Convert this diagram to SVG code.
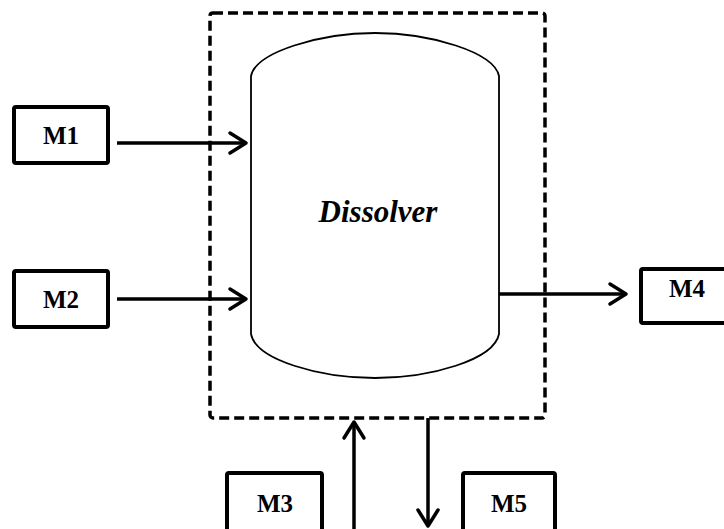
<svg xmlns="http://www.w3.org/2000/svg" width="724" height="529" viewBox="0 0 724 529">
<style>
.box{fill:#fff;stroke:#000;stroke-width:4}
.lbl{font-family:"Liberation Serif","Times New Roman",serif;font-weight:bold;font-size:25px;text-anchor:middle;fill:#000}
.line{fill:none;stroke:#000;stroke-width:3.5}
.head{fill:none;stroke:#000;stroke-width:3.5;stroke-linecap:round;stroke-linejoin:round}
</style>
<rect width="724" height="529" fill="#fff"/>
<g id="boundary">
<rect x="210" y="13" width="335" height="405" rx="3" fill="none" stroke="#000" stroke-width="3.5" stroke-dasharray="10,5"/>
</g>
<g id="dissolver">
<path d="M251,76 C256,52 320,33 375,33 C430,33 494,52 499,76 L499,334 C494,360 430,378 375,378 C320,378 256,360 251,334 Z" fill="#fff" stroke="#000" stroke-width="1.8"/>
<text x="378" y="222" font-family="'Liberation Serif','Times New Roman',serif" font-weight="bold" font-style="italic" font-size="31" text-anchor="middle">Dissolver</text>
</g>
<g id="M1">
<rect class="box" x="14" y="107" width="94" height="56" rx="2"/>
<text class="lbl" x="61" y="144">M1</text>
</g>
<g id="M2">
<rect class="box" x="14" y="271" width="94" height="56" rx="2"/>
<text class="lbl" x="61" y="308">M2</text>
</g>
<g id="M4">
<rect class="box" x="641" y="269" width="90" height="54" rx="2"/>
<text class="lbl" x="687" y="297">M4</text>
</g>
<g id="M3">
<rect class="box" x="227" y="473" width="95" height="62" rx="2"/>
<text class="lbl" x="275" y="512">M3</text>
</g>
<g id="M5">
<rect class="box" x="463" y="473" width="92" height="62" rx="2"/>
<text class="lbl" x="509" y="512">M5</text>
</g>
<g id="connectors">
<line class="line" x1="117" y1="143" x2="246" y2="143"/>
<polyline class="head" points="230,133 246,143 230,153"/>
<line class="line" x1="117" y1="299" x2="246" y2="299"/>
<polyline class="head" points="230,289 246,299 230,309"/>
<line class="line" x1="499" y1="294" x2="626" y2="294"/>
<polyline class="head" points="610,284 626,294 610,304"/>
<line class="line" x1="354" y1="529" x2="354" y2="422"/>
<polyline class="head" points="344,438 354,422 364,438"/>
<line class="line" x1="428" y1="418" x2="428" y2="526"/>
<polyline class="head" points="418,510 428,526 438,510"/>
</g>
</svg>
